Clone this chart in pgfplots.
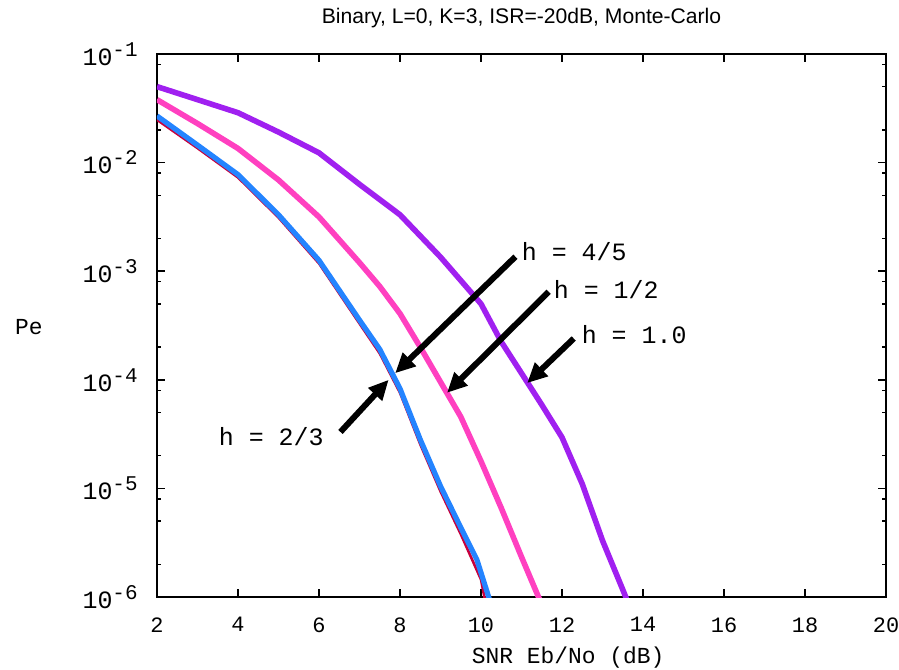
\documentclass[border=0pt]{standalone}
\usepackage{fontspec}
\setmainfont{Liberation Mono}
\newfontfamily\sansf{Liberation Sans}
\usepackage{pgfplots}
\pgfplotsset{compat=1.18}
\usetikzlibrary{arrows.meta}
\definecolor{cpurple}{RGB}{160,32,240}
\definecolor{cpink}{RGB}{255,64,192}
\definecolor{cblue}{RGB}{36,132,255}
\definecolor{cred}{RGB}{200,0,60}
\newcommand{\tl}[1]{\mbox{10\raisebox{4.5bp}{\fontsize{10.5}{10}\selectfont-#1}}}
\begin{document}
\begin{tikzpicture}
\begin{axis}[
  name=ax,
  scale only axis,
  width=364.5bp, height=271.5bp,
  xmin=2, xmax=20,
  ymode=log, ymin=1e-6, ymax=1e-1,
  axis line style={black, line width=0.75bp},
  tick style={black, line width=0.75bp},
  major tick length=4bp, minor tick length=2.2bp,
  tick align=inside,
  xtick={2,4,6,8,10,12,14,16,18,20},
  xticklabels={2,4,6,8,10,12,14,16,18,20},
  ytick={1e-6,1e-5,1e-4,1e-3,1e-2,1e-1},
  yticklabels={\tl{6},\tl{5},\tl{4},\tl{3},\tl{2},\tl{1}},
  minor ytick={2e-6,5e-6,8e-6,2e-5,5e-5,8e-5,2e-4,5e-4,8e-4,2e-3,5e-3,8e-3,2e-2,5e-2,8e-2},
  xticklabel style={font=\fontsize{11}{12}\selectfont, inner sep=0pt, anchor=north, yshift=-10bp},
  yticklabel style={font=\fontsize{12.5}{13}\selectfont, inner sep=0pt, anchor=east, xshift=-9.5bp},
  clip mode=individual,
]
\addplot[cpurple, line width=2.8bp] coordinates {
 (2,0.0501) (3,0.0380) (4,0.0288) (5,0.0191) (6,0.0123) (7,0.00631) (8,0.00331)
 (9,0.00135) (10,5.01e-4) (10.5,2.24e-4) (11,1.15e-4) (11.5,5.89e-5) (12,2.95e-5)
 (12.5,1.10e-5) (13,3.31e-6) (13.5,1.17e-6) (13.65,8.5e-7)};
\addplot[cpink, line width=2.8bp] coordinates {
 (2,0.0380) (3,0.0229) (4,0.0135) (5,0.00692) (6,0.00316) (7,0.00120) (7.5,7.24e-4)
 (8,4.07e-4) (8.5,2.0e-4) (9,9.55e-5) (9.5,4.57e-5) (10,1.78e-5) (10.5,6.6e-6)
 (11,2.34e-6) (11.5,8.5e-7)};
\addplot[cred, line width=1.3bp] coordinates {
 (2,0.0248) (3,0.0136) (4,0.00730) (5,0.00312) (6,0.00118) (7,3.3e-4) (7.5,1.75e-4)
 (8,7.6e-5) (8.5,2.55e-5) (9,9.4e-6) (9.5,3.8e-6) (10,1.45e-6) (10.12,8.5e-7)};
\addplot[cblue, line width=2.6bp] coordinates {
 (2,0.0269) (3,0.0145) (4,0.00776) (5,0.00331) (6,0.00126) (7,3.55e-4) (7.5,1.91e-4)
 (8,8.3e-5) (8.5,2.82e-5) (9,1.05e-5) (9.5,4.37e-6) (9.9,2.2e-6) (10.25,8.5e-7)};
% annotations
\draw[line width=3bp, -{Triangle[length=10bp,width=9bp]}] (axis cs:10.85,1.36e-3) -- (axis cs:7.88,1.15e-4);
\draw[line width=3bp, -{Triangle[length=10bp,width=9bp]}] (axis cs:11.67,6.46e-4) -- (axis cs:9.16,7.59e-5);
\draw[line width=3bp, -{Triangle[length=10bp,width=9bp]}] (axis cs:12.29,2.40e-4) -- (axis cs:11.14,9.33e-5);
\draw[line width=3bp, -{Triangle[length=10bp,width=9bp]}] (axis cs:6.53,3.31e-5) -- (axis cs:7.72,1.0e-4);
\node[anchor=west, inner sep=0pt, font=\fontsize{12.5}{13}\selectfont] at (axis cs:11.0,1.50e-3) {h = 4/5};
\node[anchor=west, inner sep=0pt, font=\fontsize{12.5}{13}\selectfont] at (axis cs:11.79,6.71e-4) {h = 1/2};
\node[anchor=west, inner sep=0pt, font=\fontsize{12.5}{13}\selectfont] at (axis cs:12.48,2.59e-4) {h = 1.0};
\node[anchor=west, inner sep=0pt, font=\fontsize{12.5}{13}\selectfont] at (axis cs:3.52,2.97e-5) {h = 2/3};
% title and labels
\node[font=\sansf\fontsize{10.6}{12}\selectfont] at (axis description cs:0.5,1.066) {Binary, L=0, K=3, ISR=-20dB, Monte-Carlo};
\node[font=\fontsize{11.5}{12}\selectfont] at (axis description cs:0.564,-0.112) {SNR Eb/No (dB)};
\node[font=\fontsize{11.5}{12}\selectfont] at (axis description cs:-0.1756,0.497) {Pe};
\end{axis}
\pgfresetboundingbox
\path ([shift={(-78.5bp,-36.5bp)}]ax.south west) rectangle ([shift={(6.5bp,27bp)}]ax.north east);
\end{tikzpicture}
\end{document}
